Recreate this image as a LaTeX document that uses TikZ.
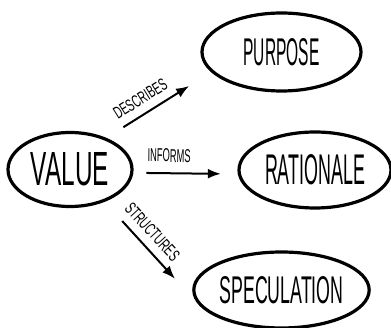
\documentclass[tikz,border=0pt]{standalone}
\usepackage{fontspec}
\setmainfont{Liberation Sans}
\usepackage{graphicx}
\usetikzlibrary{shapes.geometric, arrows.meta}

% squeezed capitals: width, height, text
\newcommand{\lettering}[3]{\resizebox{#1pt}{#2pt}{#3}}

\tikzset{
  idea/.style={draw, ellipse, line width=3.2pt, inner sep=0pt},
  flow/.style={-{Latex[length=13pt, width=10pt]}, line width=2pt},
  verb/.style={sloped, inner sep=0pt}
}

\begin{document}
\begin{tikzpicture}[x=1pt, y=-1pt]
  \useasboundingbox (0, 0) rectangle (391, 328);

  % Ideas
  \node[idea, minimum width=124pt, minimum height=74pt] (value) at (70, 169.5) {\lettering{78}{33}{VALUE}};
  \node[idea, minimum width=159pt, minimum height=78pt] (purpose) at (281.5, 52) {\lettering{76}{27}{PURPOSE}};
  \node[idea, minimum width=152pt, minimum height=76pt] (rationale) at (315, 170) {\lettering{100}{30}{RATIONALE}};
  \node[idea, minimum width=159pt, minimum height=76pt] (speculation) at (281.5, 290) {\lettering{124}{27}{SPECULATION}};

  % Relations
  \draw[flow, shorten <=20pt, shorten >=26pt] (value.41)
    -- node[verb, pos=0.40, above=8pt] {\lettering{60}{12}{DESCRIBES}} (purpose.196);
  \draw[flow, shorten <=13pt, shorten >=17pt] (value.-3)
    -- node[verb, pos=0.34, above=10pt] {\lettering{43}{13}{INFORMS}} (rationale.183);
  \draw[flow, shorten <=26pt, shorten >=35pt] (value.-43)
    -- node[verb, pos=0.39, above=8pt] {\lettering{72}{12}{STRUCTURES}} (speculation.190);
\end{tikzpicture}
\end{document}
